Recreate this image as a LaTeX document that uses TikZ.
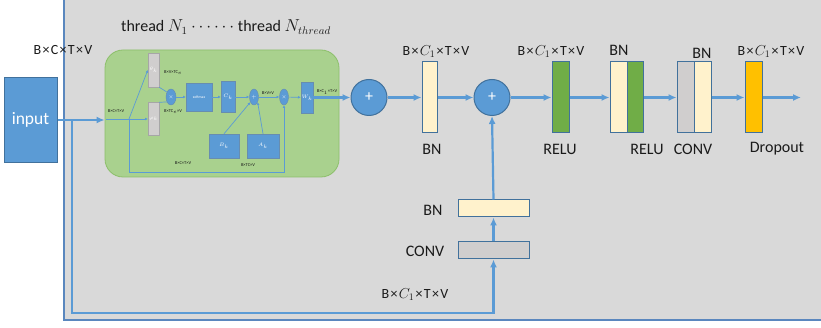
\documentclass[tikz,border=0pt]{standalone}
\usepackage{fontspec}
\setmainfont{Carlito}
\usetikzlibrary{arrows.meta,shapes.geometric}
\definecolor{panel}{HTML}{D9D9D9}
\definecolor{lblue}{HTML}{5B9BD5}
\definecolor{dblue}{HTML}{41719C}
\definecolor{pborder}{HTML}{5A87BE}
\definecolor{gfill}{HTML}{A9D18E}
\definecolor{gborder}{HTML}{8CBF6A}
\definecolor{cream}{HTML}{FFF2CC}
\definecolor{rgreen}{HTML}{70AD47}
\definecolor{cgray}{HTML}{D0CECE}
\definecolor{orng}{HTML}{FFC000}
\definecolor{igborder}{HTML}{A6A6A6}
\definecolor{txt}{HTML}{1A1A1A}
\newcommand\tnyfont{\fontsize{4.5}{5}\selectfont}
\newcommand\lblfont{\fontsize{14}{16}\selectfont}
\newcommand\bigfont{\fontsize{16}{18}\selectfont}
\newcommand\mx{\hspace{1.3pt}×\hspace{1.3pt}}
\begin{document}
\begin{tikzpicture}[x=1pt,y=-1pt,
  mline/.style={draw=lblue,line width=2.2pt},
  marrow/.style={mline,-{Latex[length=8pt,width=7pt]}},
  iline/.style={draw=lblue,line width=0.7pt},
  iarrow/.style={iline,-{Latex[length=2.8pt,width=2.8pt]}},
  blk/.style={draw=dblue,line width=1pt,inner sep=0pt,minimum width=#1,minimum height=71pt},
  lowblk/.style={draw=dblue,line width=1pt,inner sep=0pt,minimum width=71pt,minimum height=17pt},
  ibox/.style={fill=lblue,draw=dblue!80,line width=0.4pt,inner sep=0pt,text=white,font=\tnyfont},
  gbox/.style={fill=cgray,draw=igborder,line width=0.4pt,inner sep=0pt,text=white,font=\tnyfont},
  iell/.style={ellipse,fill=lblue,draw=dblue!80,line width=0.4pt,inner sep=0pt,text=white,font=\tnyfont},
  bigcirc/.style={circle,fill=lblue,draw=dblue,line width=1pt,minimum size=36pt,inner sep=0pt,text=white,font=\bigfont},
  tlbl/.style={text=txt,font=\tnyfont,inner sep=0pt},
  lbl/.style={text=txt,font=\lblfont,inner sep=0pt},
  blbl/.style={text=txt,font=\bigfont,inner sep=0pt}
]
\clip (0,0) rectangle (821,328);
\fill[white] (0,0) rectangle (821,328);
\fill[panel] (64,-5) rectangle (830,320);
\draw[pborder,line width=1.4pt] (64,-5) -- (64,320) -- (830,320);

% input
\node[fill=lblue,draw=dblue,line width=1pt,minimum width=53pt,minimum height=85pt,inner sep=0pt,text=white,font=\fontsize{17.5}{19}\selectfont] (input) at (30.5,120) {input};

% green thread box
\node[draw=gborder,fill=gfill,line width=0.8pt,rounded corners=18pt,minimum width=234pt,minimum height=127pt,inner sep=0pt] (green) at (222,113.5) {};

% inner blocks
\node[gbox,minimum width=11pt,minimum height=34pt] (theta) at (153.5,70) {$\theta_k$};
\node[gbox,minimum width=11pt,minimum height=33pt] (phi) at (153.5,119) {$\varphi_k$};
\node[iell,minimum width=10pt,minimum height=16pt] (mul1) at (171,97) {$\times$};
\node[ibox,minimum width=26pt,minimum height=28pt,font=\fontsize{3.8}{4}\selectfont] (soft) at (199,97) {softmax};
\node[ibox,minimum width=14pt,minimum height=31pt] (ck) at (228,97) {$C_k$};
\node[iell,minimum width=9pt,minimum height=16pt] (plus) at (254,97) {$+$};
\node[iell,minimum width=9pt,minimum height=16pt] (mul2) at (284,97) {$\times$};
\node[ibox,minimum width=12pt,minimum height=31pt] (wk) at (307,97.5) {$W_k$};
\node[ibox,minimum width=30pt,minimum height=24pt] (bk) at (224,146) {$B_k$};
\node[ibox,minimum width=32pt,minimum height=24pt] (ak) at (263,146) {$A_k$};

% inner connectors
\coordinate (split) at (129,119);
\coordinate (gin) at (106,119);
\draw[iarrow] (gin) -- (phi.west);
\draw[iarrow] (split) -- (theta.west);
\draw[iarrow] (split) -- (129,172) -| (mul2.south);
\draw[iline] (theta.south east) -- (mul1.130);
\draw[iline] (phi.north east) -- (mul1.230);
\draw[iarrow] (mul1) -- (soft);
\draw[iarrow] (soft) -- (ck);
\draw[iarrow] (ck) -- (plus);
\draw[iarrow] (plus) -- (mul2);
\draw[iarrow] (mul2) -- (wk);
\draw[iarrow] (bk.north) -- (plus.235);
\draw[iarrow] (ak.north) -- (plus.305);

% inner labels
\node[tlbl] at (116,111.5) {B×C×T×V};
\node[tlbl] at (173,73) {B×V×TC$_e$};
\node[tlbl] at (173,112) {B×TC$_e$×V};
\node[tlbl] at (268,93) {B×V×V};
\node[tlbl] at (327,92) {B×C$_1$×T×V};
\node[tlbl] at (183,163) {B×C×T×V};
\node[tlbl] at (248,165) {B×TC×V};

% main chain
\node[bigcirc] (c1) at (369,97.5) {+};
\node[blk=15pt,fill=cream] (bn1) at (429.5,97.5) {};
\node[bigcirc] (c2) at (492,97.5) {+};
\node[blk=17pt,fill=rgreen] (relu) at (560.5,97.5) {};
\node[blk=17pt,fill=cream] (bn2) at (618.5,97.5) {};
\node[blk=16pt,fill=rgreen] (relu2) at (635,97.5) {};
\node[blk=17pt,fill=cgray] (conv2) at (685.5,97.5) {};
\node[blk=17pt,fill=cream] (bn3) at (702.5,97.5) {};
\node[blk=17pt,fill=orng] (drop) at (753.5,97.5) {};
\coordinate (outend) at (801,97.5);

% lower branch
\node[lowblk,fill=cream] (bnl) at (493.5,208.5) {};
\node[lowblk,fill=cgray] (convl) at (493.5,250.5) {};

% main connectors
\draw[marrow] (input.east) -- (input.east -| green.west);
\coordinate (br) at (72,120);
\draw[marrow] (br) -- (72,313) -| (convl.south);
\draw[marrow] (convl.north) -- (bnl.south);
\draw[marrow] (bnl.north) -- (c2.south);
\draw[marrow] (wk.east) -- (c1.west);
\draw[marrow] (c1.east) -- (bn1.west);
\draw[marrow] (bn1.east) -- (c2.west);
\draw[marrow] (c2.east) -- (relu.west);
\draw[marrow] (relu.east) -- (bn2.west);
\draw[marrow] (relu2.east) -- (conv2.west);
\draw[marrow] (bn3.east) -- (drop.west);
\draw[marrow] (drop.east) -- (outend);

% labels
\node[lbl] at (63,50) {B\mx C\mx T\mx V};
\node[text=txt,font=\fontsize{16}{18}\selectfont,inner sep=0pt] at (226,27) {thread $N_1$ $\cdots\cdots$ thread $N_{thread}$};
\node[lbl] at (436,52) {B\mx$C_1$\mx T\mx V};
\node[lbl] at (551,52) {B\mx$C_1$\mx T\mx V};
\node[lbl] at (771,52) {B\mx$C_1$\mx T\mx V};
\node[lbl] at (415,295) {B\mx$C_1$\mx T\mx V};
\node[blbl] at (432,149) {BN};
\node[blbl] at (560,149) {RELU};
\node[blbl] at (619,50) {BN};
\node[blbl] at (647,149) {RELU};
\node[blbl] at (702,53) {BN};
\node[blbl] at (693,149) {CONV};
\node[blbl] at (777,149) {Dropout};
\node[blbl] at (433,210) {BN};
\node[blbl] at (425,251) {CONV};
\end{tikzpicture}
\end{document}
